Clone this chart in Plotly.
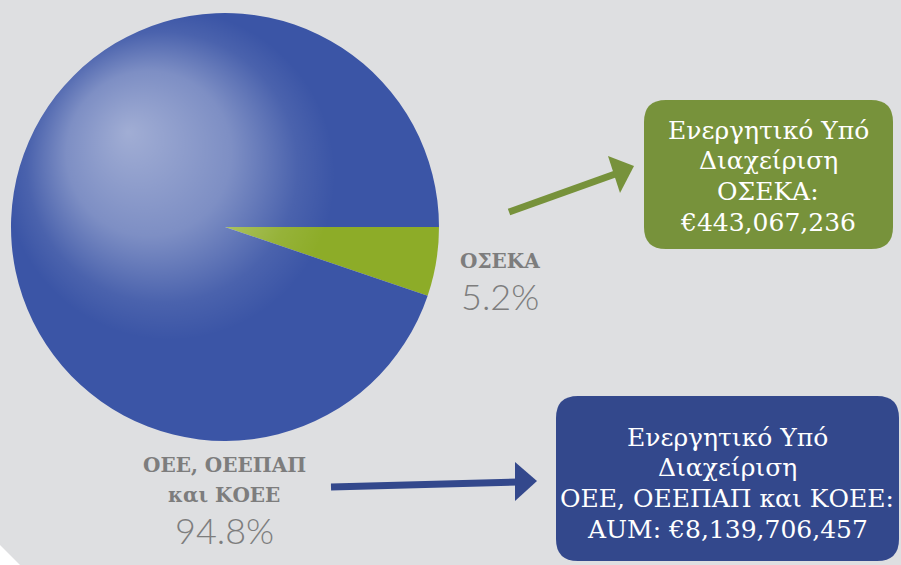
import base64
import plotly.graph_objects as go

# ---- data ----
categories = ["ΟΣΕΚΑ", "ΟΕΕ, ΟΕΕΠΑΠ και ΚΟΕΕ"]
label_lines = [["ΟΣΕΚΑ"], ["ΟΕΕ, ΟΕΕΠΑΠ", "και ΚΟΕΕ"]]
shares = [5.2, 94.8]
aum_values = [443067236, 8139706457]
box_titles = [["Ενεργητικό Υπό", "Διαχείριση", "ΟΣΕΚΑ:"],
              ["Ενεργητικό Υπό", "Διαχείριση", "ΟΕΕ, ΟΕΕΠΑΠ και ΚΟΕΕ:"]]
box_value_prefix = ["", "AUM: "]
slice_colors = ["#8dac28", "#3b55a6"]
box_colors = ["#77923b", "#33488c"]

W, H = 901, 565
BG = "#dedfe1"
GREY = "#7d7d7d"
SERIF = "DejaVu Serif"


def px(x):
    return x / W


def py(y):
    return 1 - y / H


fig = go.Figure()

# pie
cx, cy, r = 225, 227, 214
fig.add_trace(go.Pie(
    labels=categories, values=shares, sort=False, direction="clockwise",
    rotation=90, textinfo="none", hoverinfo="skip", showlegend=False,
    marker=dict(colors=slice_colors, line=dict(width=0)),
    domain=dict(x=[px(cx - r), px(cx + r)], y=[py(cy + r), py(cy - r)]),
))

# glossy highlight overlay (radial gradient)
svg = f'''<svg xmlns="http://www.w3.org/2000/svg" width="{W}" height="{H}" viewBox="0 0 {W} {H}">
<defs><radialGradient id="g" gradientUnits="userSpaceOnUse" cx="170" cy="175" r="165" fx="128" fy="132">
<stop offset="0" stop-color="#ffffff" stop-opacity="0.52"/>
<stop offset="0.5" stop-color="#ffffff" stop-opacity="0.34"/>
<stop offset="0.82" stop-color="#ffffff" stop-opacity="0.08"/>
<stop offset="1" stop-color="#ffffff" stop-opacity="0"/>
</radialGradient></defs>
<circle cx="{cx}" cy="{cy}" r="{r}" fill="url(#g)"/>
</svg>'''
src = "data:image/svg+xml;base64," + base64.b64encode(svg.encode()).decode()
fig.add_layout_image(dict(source=src, xref="paper", yref="paper", x=0, y=1,
                          sizex=1, sizey=1, xanchor="left", yanchor="top",
                          sizing="stretch", layer="above"))


def rounded_rect(x0, y0, x1, y1, rad):
    path = f"M {px(x0 + rad)},{py(y0)} L {px(x1 - rad)},{py(y0)} "
    path += f"Q {px(x1)},{py(y0)} {px(x1)},{py(y0 + rad)} "
    path += f"L {px(x1)},{py(y1 - rad)} Q {px(x1)},{py(y1)} {px(x1 - rad)},{py(y1)} "
    path += f"L {px(x0 + rad)},{py(y1)} Q {px(x0)},{py(y1)} {px(x0)},{py(y1 - rad)} "
    path += f"L {px(x0)},{py(y0 + rad)} Q {px(x0)},{py(y0)} {px(x0 + rad)},{py(y0)} Z"
    return path


def poly(points):
    return "M " + " L ".join(f"{px(x)},{py(y)}" for x, y in points) + " Z"


shapes = []
# white corner triangle bottom-left
shapes.append(dict(type="path", xref="paper", yref="paper",
                   path=poly([(0, 545), (20, 565), (0, 565)]),
                   fillcolor="#ffffff", line=dict(width=0), layer="below"))
# boxes
box_rects = [(644, 100, 893, 249), (556, 396, 899, 561)]
for (x0, y0, x1, y1), col in zip(box_rects, box_colors):
    shapes.append(dict(type="path", xref="paper", yref="paper",
                       path=rounded_rect(x0, y0, x1, y1, 22),
                       fillcolor=col, line=dict(width=0)))
# arrows (shaft + head)
shapes.append(dict(type="line", xref="paper", yref="paper",
                   x0=px(509), y0=py(212), x1=px(618), y1=py(173),
                   line=dict(color=box_colors[0], width=7)))
shapes.append(dict(type="path", xref="paper", yref="paper",
                   path=poly([(608, 156), (634, 166), (620, 193)]),
                   fillcolor=box_colors[0], line=dict(width=0)))
shapes.append(dict(type="line", xref="paper", yref="paper",
                   x0=px(331), y0=py(487), x1=px(518), y1=py(482),
                   line=dict(color=box_colors[1], width=7)))
shapes.append(dict(type="path", xref="paper", yref="paper",
                   path=poly([(515, 462), (537, 481), (515, 501)]),
                   fillcolor=box_colors[1], line=dict(width=0)))

annotations = []


def txt(x, y, s, size, color, family, weight="normal"):
    annotations.append(dict(x=px(x), y=py(y), xref="paper", yref="paper",
                            text=s, showarrow=False, xanchor="center", yanchor="middle",
                            font=dict(size=size, color=color, family=family, weight=weight)))


# slice labels
label_x = [500, 224]
label_y = [[261], [465, 495]]
pct_y = [296, 530]
for i in range(len(categories)):
    for line, yy in zip(label_lines[i], label_y[i]):
        txt(label_x[i], yy, line, 20, GREY, SERIF, "bold")
    txt(label_x[i], pct_y[i], f"{shares[i]}%", 36, GREY, "Lato", 300)

# box texts
box_text_x = [768, 727]
box_text_y0 = [130, 437]
for i in range(len(categories)):
    lines = box_titles[i] + [f"{box_value_prefix[i]}€{aum_values[i]:,}"]
    for j, line in enumerate(lines):
        txt(box_text_x[i], box_text_y0[i] + j * 30.7, line, 25, "#ffffff", SERIF)

fig.update_layout(
    width=W, height=H, margin=dict(l=0, r=0, t=0, b=0),
    paper_bgcolor=BG, plot_bgcolor=BG, showlegend=False,
    shapes=shapes, annotations=annotations,
)

fig.write_html("out.html", config={"displayModeBar": False},
               post_script="document.body.style.margin='0';document.body.style.background='#ffffff';")
